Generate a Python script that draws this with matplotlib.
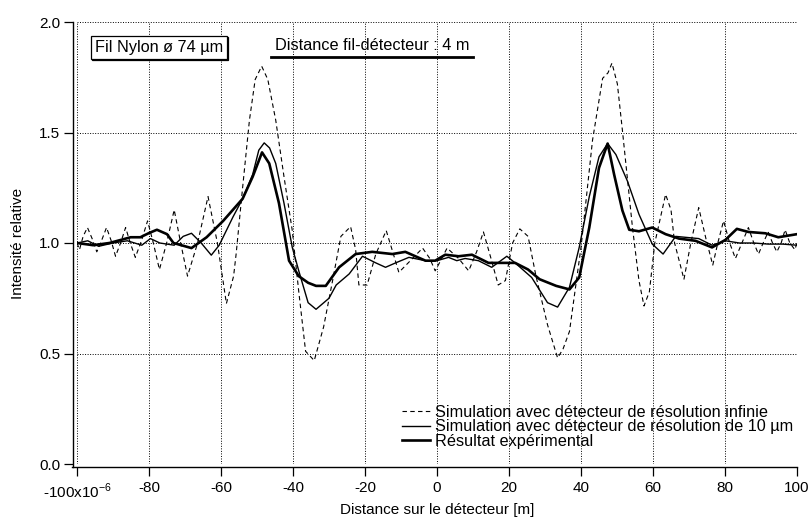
import numpy as np
import matplotlib
matplotlib.use("Agg")
import matplotlib.pyplot as plt
from matplotlib.lines import Line2D
from matplotlib.transforms import offset_copy

plt.rcParams['font.family'] = ['Liberation Sans', 'DejaVu Sans']
plt.rcParams['mathtext.fontset'] = 'custom'
plt.rcParams['mathtext.rm'] = 'Liberation Sans'
plt.rcParams['font.size'] = 11

# positions in micrometres
x_inf = [-100, -99.3, -98.3, -97.1, -95.8, -94.5, -93.2, -91.8, -90.5, -89.3, -87.9, -86.5,
         -85.2, -83.8, -82.1, -80.4, -78.8, -77.1, -75.1, -73.0, -71.2, -69.3, -66.5, -63.6,
         -61, -58.5, -56.5, -55.8, -54, -52.1, -50.5, -48.7, -47, -44.8, -42.5, -40.2, -38.4,
         -36.5, -34.1, -31.5, -29, -26.7, -24, -22.6, -21.7, -19.4, -17, -14.1, -12.3, -10.6,
         -8, -4, -2, -0.5, 1, 2.8, 6, 8.8, 11, 12.9, 15, 17, 19, 21, 23, 25.3, 27.5, 30.7,
         33.5, 35, 36.8, 40, 43.2, 46, 47.5, 48.6, 50.1, 51.5, 54.3, 56.1, 57.5, 59, 60.5,
         63.5, 65, 66, 68.6, 70.5, 72.7, 74.7, 76.6, 78, 79.6, 81.3, 82.9, 84.7, 86.5, 88,
         89.3, 90.6, 92, 93.2, 94.4, 95.6, 96.7, 98, 99.4, 100]
y_inf = [1.0, 0.97, 1.03, 1.07, 1.02, 0.96, 1.01, 1.07, 1.01, 0.94, 1.0, 1.07,
         1.0, 0.935, 1.01, 1.10, 1.0, 0.88, 1.0, 1.15, 1.0, 0.85, 1.0, 1.21,
         1.0, 0.726, 0.85, 0.95, 1.25, 1.556, 1.74, 1.80, 1.74, 1.556, 1.3, 1.056, 0.78,
         0.51, 0.468, 0.62, 0.83, 1.03, 1.074, 0.97, 0.81, 0.81, 0.95, 1.056, 0.96, 0.867,
         0.91, 0.977, 0.93, 0.874, 0.92, 0.977, 0.93, 0.874, 0.96, 1.05, 0.93, 0.81, 0.83,
         1.0, 1.064, 1.03, 0.85, 0.63,
         0.48, 0.52, 0.60, 0.98, 1.465, 1.745, 1.77, 1.814, 1.72, 1.51, 1.07, 0.83, 0.715,
         0.78, 1.0, 1.22, 1.15, 1.0, 0.836, 1.0, 1.16, 1.02, 0.90, 1.0, 1.10, 1.0, 0.93,
         1.0, 1.07, 1.0, 0.95, 1.0, 1.05, 1.0, 0.96, 1.0, 1.06, 1.0, 0.97, 1.0]

x_res10 = [-100, -97, -94, -90, -86, -82, -79.6, -77, -73, -70.5, -68.2, -65.5, -62.7, -60.5,
           -56.7, -54, -51.2, -49.5, -48, -46.5, -44.8, -42.5, -40.2, -38.4, -35.8, -33.6,
           -30, -28, -24.4, -20.7, -17, -14.3, -11.5, -7.8, -3.2, 0, 3.2, 5.5, 7.8, 11.5,
           15.2, 19.4, 21.7, 26.3, 30.7, 33.5, 36.8, 39.5, 42.3, 45, 47.4, 49.7, 52.9, 56.1,
           59.8, 62.8, 66.3, 69.5, 72.7, 76.4, 80.1, 84, 88, 92, 96, 100]
y_res10 = [1.0, 1.01, 0.985, 1.0, 1.01, 0.99, 1.02, 1.0, 0.99, 1.03, 1.044, 1.0, 0.945, 0.99,
           1.117, 1.2, 1.31, 1.42, 1.453, 1.43, 1.36, 1.18, 0.98, 0.874, 0.73, 0.70,
           0.75, 0.81, 0.86, 0.94, 0.91, 0.89, 0.91, 0.935, 0.92, 0.92, 0.935, 0.92, 0.93, 0.92,
           0.89, 0.94, 0.91, 0.844, 0.73, 0.71, 0.80, 0.98, 1.21, 1.39, 1.45, 1.40, 1.28, 1.13,
           0.995, 0.95, 1.03, 1.025, 1.02, 0.99, 1.01, 1.0, 1.0, 0.995, 0.995, 0.99]

x_exp = [-100, -95.5, -91, -85.1, -82.4, -80, -77.8, -75, -73.2, -68.2, -64, -59.4, -54,
         -51.2, -48.6, -46.6, -43.9, -41.1, -38.4, -35.8, -33.6, -30.9, -27.2, -22.6, -18,
         -12.4, -8.8, -3.2, -0.5, 2.3, 6, 9.7, 14.3, 17, 21.7, 25.3, 28.5, 33.1, 36.8, 39.5,
         42.3, 45, 47.4, 49.2, 51.5, 53.4, 56.1, 59.8, 63.5, 67.2, 71.8, 76.4, 80.1, 83.3,
         86.5, 91.2, 94.8, 100]
y_exp = [1.0, 0.99, 1.0, 1.026, 1.026, 1.045, 1.06, 1.04, 1.0, 0.977, 1.026, 1.10, 1.2,
         1.30, 1.41, 1.36, 1.18, 0.92, 0.85, 0.82, 0.806, 0.806, 0.89, 0.95, 0.96,
         0.95, 0.96, 0.92, 0.92, 0.947, 0.94, 0.947, 0.91, 0.91, 0.91, 0.88, 0.836, 0.806, 0.79, 0.844,
         1.07, 1.34, 1.45, 1.31, 1.147, 1.06, 1.053, 1.07, 1.04, 1.02, 1.01, 0.98, 1.014, 1.064,
         1.05, 1.044, 1.026, 1.04]

xticks = [-100, -80, -60, -40, -20, 0, 20, 40, 60, 80, 100]
xtick_labels = ['-100x10$^{-6}$', '-80', '-60', '-40', '-20', '0', '20', '40', '60', '80', '100']
yticks = [0.0, 0.5, 1.0, 1.5, 2.0]

labels = ['Simulation avec détecteur de résolution infinie',
          'Simulation avec détecteur de résolution de 10 µm',
          'Résultat expérimental']

fig = plt.figure(figsize=(8.12, 5.21), dpi=100)
ax = fig.add_axes([77/812, 57/521, 720/812, 442/521])

ax.plot(x_inf, y_inf, color='black', lw=0.8, linestyle=(0, (4, 3)), label=labels[0])
ax.plot(x_res10, y_res10, color='black', lw=1.0, label=labels[1])
ax.plot(x_exp, y_exp, color='black', lw=1.9, label=labels[2])

ax.set_xlim(-100, 100)
ax.set_ylim(0, 2)
ax.set_xticks(xticks)
ax.set_xticklabels(xtick_labels)
ax.set_yticks(yticks)
ax.set_yticklabels(['%.1f' % v for v in yticks])
ax.grid(True, color='black', linestyle=(0, (1, 1.6)), lw=0.7)

for s in ['top', 'right']:
    ax.spines[s].set_visible(False)
ax.spines['left'].set_position(('outward', 3))
ax.spines['bottom'].set_position(('outward', 2))
ax.spines['left'].set_bounds(-0.012, 2)
ax.spines['bottom'].set_bounds(-101.3, 100)
ax.spines['left'].set_linewidth(1.0)
ax.spines['bottom'].set_linewidth(1.0)
ax.tick_params(direction='out', length=6.5, width=0.9, pad=2.5)
ax.tick_params(axis='x', pad=4)

ax.set_xlabel('Distance sur le détecteur [m]', labelpad=2)
ax.set_ylabel('Intensité relative', labelpad=10)

fs_txt = 11.7

# box with a small drop shadow
box_txt = 'Fil Nylon ø 74 µm'
shadow = offset_copy(ax.transAxes, fig=fig, x=1.5, y=-1.5, units='dots')
ax.text(0.1135, 0.943, box_txt, transform=shadow, va='center', ha='center', color='none',
        fontsize=fs_txt, bbox=dict(boxstyle='square,pad=0.25', fc='black', ec='black', lw=0.9))
ax.text(0.1135, 0.943, box_txt, transform=ax.transAxes, va='center', ha='center',
        fontsize=fs_txt, bbox=dict(boxstyle='square,pad=0.25', fc='white', ec='black', lw=0.9))

ax.text(0.275, 0.947, 'Distance fil-détecteur : 4 m', transform=ax.transAxes,
        va='center', ha='left', fontsize=fs_txt)
ax.add_line(Line2D([0.269, 0.55], [0.92, 0.92], transform=ax.transAxes,
                   color='black', lw=2))

leg = ax.legend(loc='lower left', bbox_to_anchor=((402 - 77) / 720, 0.035), frameon=False,
                fontsize=fs_txt, handlelength=1.7, handletextpad=0.35, labelspacing=-0.05,
                borderaxespad=0, borderpad=0)

fig.savefig('out.png', dpi=100)
